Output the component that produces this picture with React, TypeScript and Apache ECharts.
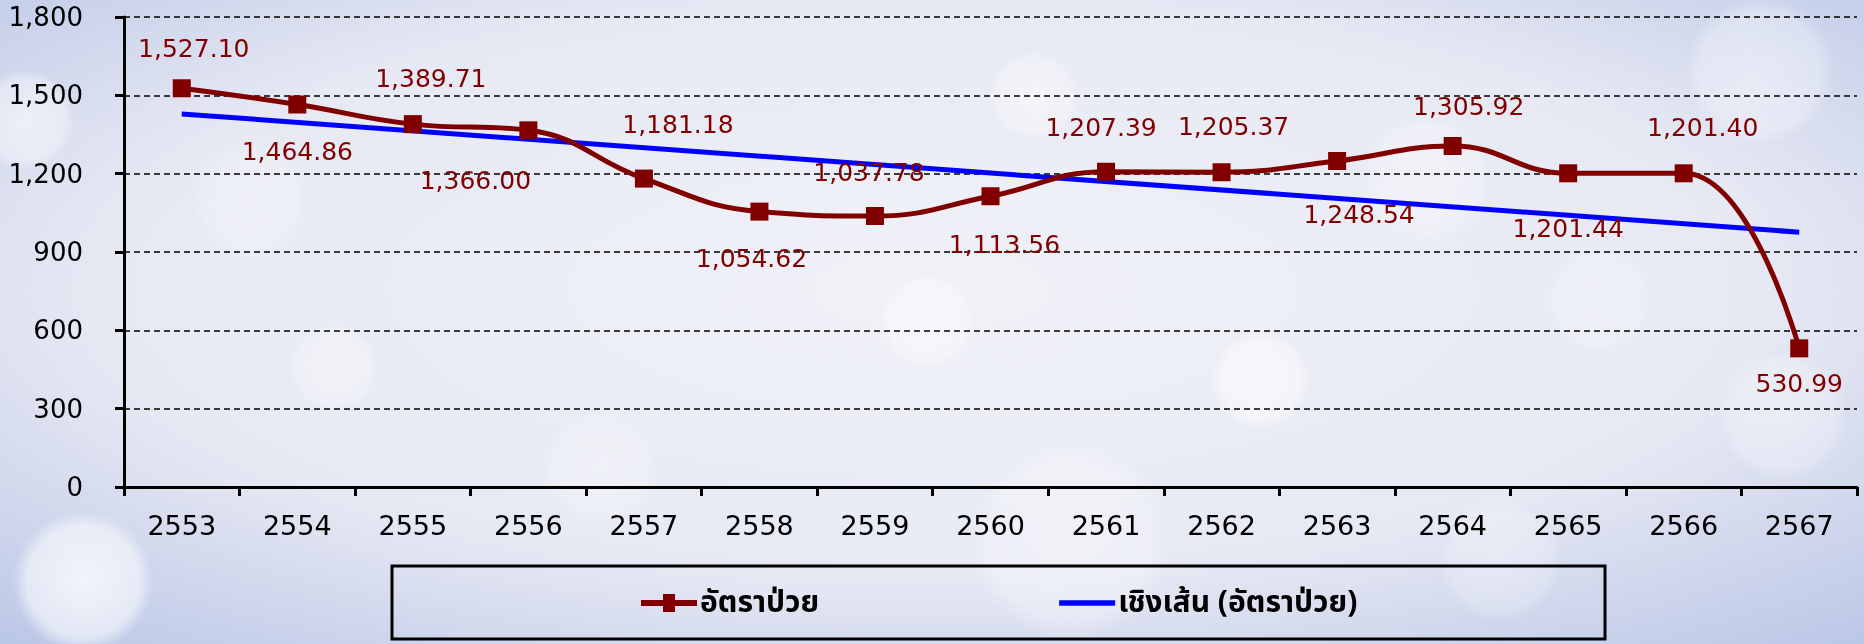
import React, { useEffect, useRef } from "react";
import * as echarts from "echarts";

const years = ["2553", "2554", "2555", "2556", "2557", "2558", "2559", "2560", "2561", "2562", "2563", "2564", "2565", "2566", "2567"];
const rates = [1527.1, 1464.86, 1389.71, 1366.0, 1181.18, 1054.62, 1037.78, 1113.56, 1207.39, 1205.37, 1248.54, 1305.92, 1201.44, 1201.4, 530.99];
const trendYears = ["2553", "2567"];
const trendValues = [1428.9, 975.9];
const seriesNames = ["อัตราป่วย", "เชิงเส้น (อัตราป่วย)"];
const yTicks = { min: 0, max: 1800, interval: 300 };

// label placement (style only)
const labelOffsets: [number, number][] = [
  [12, -40], [0, 47], [18, -46], [-53, 50], [34, -54], [-8, 47], [-6, -44], [14, 48],
  [-5, -44], [12, -46], [22, 54], [16, -40], [0, 55], [19, -46], [0, 35],
];

const fmt = (v: number, d: number) => {
  const s = v.toFixed(d);
  const [i, f] = s.split(".");
  const ii = i.replace(/\B(?=(\d{3})+(?!\d))/g, ",");
  return f ? ii + "." + f : ii;
};

const bokeh = [
  [83, 582, 70, 0.75], [25, 120, 50, 0.55], [333, 368, 45, 0.4], [927, 321, 48, 0.45],
  [1070, 540, 100, 0.4], [1260, 380, 50, 0.6], [1034, 95, 45, 0.45], [1427, 178, 65, 0.35],
  [1760, 71, 75, 0.4], [1783, 416, 65, 0.35], [600, 470, 58, 0.3], [1500, 560, 62, 0.3],
  [250, 200, 60, 0.3], [1600, 300, 55, 0.3],
];

const iconRate = "path://M0,6 L22,6 L22,0 L34,0 L34,6 L56,6 L56,12 L34,12 L34,18 L22,18 L22,12 L0,12 Z";
const iconTrend = "path://M0,0 L56,0 L56,5.5 L0,5.5 Z";

export default function App() {
  const ref = useRef<HTMLDivElement>(null);
  useEffect(() => {
    if (!ref.current) return;
    const chart = echarts.init(ref.current, null, { renderer: "svg" });
    const font = "'DejaVu Sans', 'Liberation Sans', sans-serif";
    const thai = "'Noto Sans Thai', 'Noto Sans Thai UI', 'Noto Sans', sans-serif";
    chart.setOption({
      animation: false,
      backgroundColor: {
        type: "radial", x: 0.5, y: 0.45, r: 0.75,
        colorStops: [
          { offset: 0, color: "#f1f2f8" },
          { offset: 0.6, color: "#e6e8f3" },
          { offset: 1, color: "#b9c6e6" },
        ],
      },
      graphic: [
        ...bokeh.map(([x, y, r, o]) => ({
          type: "circle", z: -10, silent: true,
          shape: { cx: x, cy: y, r },
          style: {
            fill: {
              type: "radial", x: 0.5, y: 0.5, r: 0.5,
              colorStops: [
                { offset: 0, color: `rgba(255,255,255,${o})` },
                { offset: 0.8, color: `rgba(255,255,255,${o * 0.7})` },
                { offset: 1, color: "rgba(255,255,255,0)" },
              ],
            },
          },
        })),
        {
          type: "rect", z: 10, silent: true,
          shape: { x: 392, y: 566, width: 1213, height: 73 },
          style: { fill: "transparent", stroke: "#000", lineWidth: 3 },
        },
      ],
      grid: { left: 124, right: 7, top: 17, bottom: 157, containLabel: false },
      legend: {
        data: [
          { name: seriesNames[0], icon: iconRate, itemStyle: { color: "#800000" } },
          { name: seriesNames[1], icon: iconTrend, itemStyle: { color: "#0000ff" } },
        ],
        left: 636, top: 583,
        itemGap: 240, itemWidth: 56, itemHeight: 18,
        textStyle: { fontFamily: thai, fontSize: 30, fontWeight: "bold", color: "#000", padding: [0, 0, 0, -2] },
      },
      xAxis: {
        type: "category", data: years, boundaryGap: true,
        axisLine: { lineStyle: { color: "#000", width: 3 } },
        axisTick: { show: true, length: 9, lineStyle: { color: "#000", width: 3 } },
        axisLabel: { fontFamily: font, fontSize: 27, color: "#000", margin: 25 },
      },
      yAxis: {
        type: "value", ...yTicks,
        axisLine: { show: true, lineStyle: { color: "#000", width: 3 } },
        axisTick: { show: true, length: 9, lineStyle: { color: "#000", width: 3 } },
        axisLabel: { fontFamily: font, fontSize: 26, color: "#000", margin: 41, formatter: (v: number) => fmt(v, 0) },
        splitLine: { show: true, lineStyle: { color: "#000", width: 1.5, type: [6, 4] } },
      },
      series: [
        {
          name: seriesNames[1], type: "line", z: 2,
          data: trendYears.map((y, i) => [y, trendValues[i]]),
          showSymbol: false, symbol: "none",
          lineStyle: { color: "#0000ff", width: 5 },
          itemStyle: { color: "#0000ff" },
        },
        {
          name: seriesNames[0], type: "line", z: 3, smooth: 0.45,
          data: rates.map((v, i) => ({
            value: v,
            label: { offset: labelOffsets[i] },
          })),
          symbol: "rect", symbolSize: 18,
          itemStyle: { color: "#800000" },
          lineStyle: { color: "#800000", width: 5 },
          label: {
            show: true, position: "inside", fontFamily: font, fontSize: 25, color: "#800000",
            formatter: (p: any) => fmt(p.value, 2),
          },
        },
      ],
    });
    return () => chart.dispose();
  }, []);
  return <div ref={ref} style={{ position: "fixed", left: 0, top: 0, width: 1864, height: 644 }} />;
}
